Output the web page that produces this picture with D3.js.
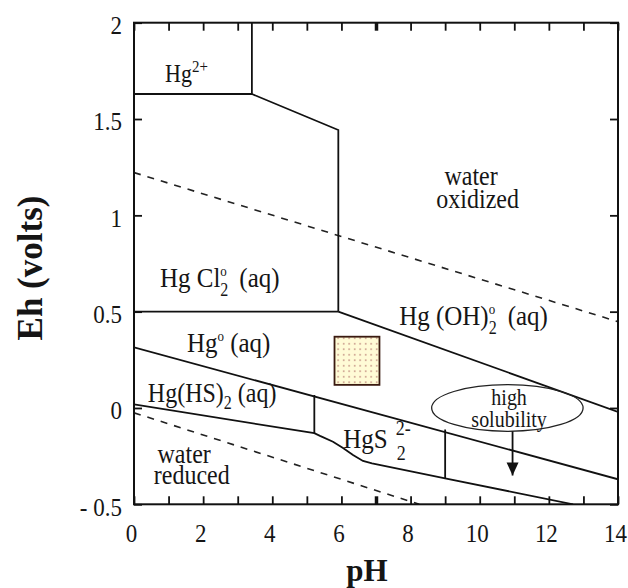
<!DOCTYPE html>
<html><head><meta charset="utf-8">
<script src="https://cdn.jsdelivr.net/npm/d3@7"></script>
<style>
html,body{margin:0;padding:0;background:#fff;}
text{font-family:"Liberation Serif","Times New Roman",serif;fill:#151515;}
</style></head>
<body><svg id="c" width="628" height="588"></svg>
<script>
// ---- data ----
const xDomain = [0, 14];
const yDomain = [-0.5, 2];
const xTickValues = d3.range(0, 15, 1);
const xLabelValues = [0, 2, 4, 6, 8, 10, 12, 14];
const yTickValues = [-0.5, 0, 0.5, 1, 1.5, 2];
const yTickLabels = ["- 0.5", "0", "0.5", "1", "1.5", "2"];

// solid stability-field boundaries [pH, Eh]
const hg2Box = [[0, 1.63], [3.41, 1.63], [3.41, 2]];
const hgcl2Upper = [[3.41, 1.63], [5.91, 1.443], [5.91, 0.5]];
const hgcl2Lower = [[0, 0.5], [5.91, 0.5]];
const hgoh2Lower = [[5.91, 0.5], [14, -0.02]];
const hg0Lower = [[0, 0.315], [14, -0.37]];
const hghs2Lower = [[0, 0.019], [5.216, -0.131], [5.38, -0.145], [5.756, -0.175], [6.046, -0.208],
                    [6.335, -0.244], [6.624, -0.275], [6.885, -0.287], [9.0, -0.365], [12.7, -0.5]];
const verticals = [[[5.216, -0.131], [5.216, 0.067]], [[9.0, -0.365], [9.0, -0.112]]];
// water stability limits (dashed)
const waterUpper = [[0, 1.222], [14, 0.448]];
const waterLower = [[0, -0.025], [8.25, -0.5]];
// shaded field box [pHmin, pHmax, EhMin, EhMax]
const fieldBox = [5.8, 7.1, 0.12, 0.37];
// ellipse [pH, Eh, rx(pH), ry(Eh)] and arrow
const solEllipse = [10.8, 0.0, 2.19, 0.121];
const solArrow = [[10.95, -0.121], [10.95, -0.35]];

// labels: parts = [text, baseline offset px, font size]
const regionLabels = [
  {x: 0.9, y: 1.694, size: 22, parts: [["Hg",0],["2+",-9,15]]},
  {x: 0.75, y: 0.628, size: 25, parts: [["Hg Cl",0],["2",8,16],["o",-10,13,-8],["  (aq)",0]]},
  {x: 1.53, y: 0.292, size: 25, parts: [["Hg",0],["o",-10,13],[" (aq)",0]]},
  {x: 0.4, y: 0.033, size: 24, parts: [["Hg(HS)",0],["2",7,16],[" (aq)",0]]},
  {x: 7.67, y: 0.431, size: 25, parts: [["Hg (OH)",0],["2",8,16],["o",-10,13,-8],["  (aq)",0]]}
];
const plainLabels = [
  {x: 1.45, y: -0.286, size: 24, t: "water"}, {x: 1.67, y: -0.395, size: 24, t: "reduced"},
  {x: 9.75, y: 1.158, size: 24, t: "water"}, {x: 9.94, y: 1.037, size: 24, t: "oxidized"},
  {x: 10.85, y: 0.016, size: 20, t: "high"}, {x: 10.85, y: -0.097, size: 20, t: "solubility"}
];

// ---- drawing ----
const SY = 1.12; // vertical stretch of the original lettering
const svg = d3.select("#c");
const x = d3.scaleLinear().domain(xDomain).range([134, 618]);
const y = d3.scaleLinear().domain(yDomain).range([504.3, 22.7]);
const line = d3.line().x(d => x(d[0])).y(d => y(d[1]));
const stext = (px, py, size) => svg.append("text")
  .attr("transform", `translate(${px},${py}) scale(1,${SY})`).attr("font-size", size);

const defs = svg.append("defs");
const pat = defs.append("pattern").attr("id","dots").attr("patternUnits","userSpaceOnUse")
  .attr("width",5.5).attr("height",5.5);
pat.append("rect").attr("width",5.5).attr("height",5.5).attr("fill","#fffbd6");
pat.append("circle").attr("cx",2.7).attr("cy",2.7).attr("r",0.75).attr("fill","#a05050");
defs.append("clipPath").attr("id","plot").append("rect")
  .attr("x",x(0)).attr("y",y(2)).attr("width",x(14)-x(0)).attr("height",y(-0.5)-y(2));

const g = svg.append("g").attr("clip-path","url(#plot)");

// dashed water lines
[waterUpper, waterLower].forEach(d => g.append("path").attr("d", line(d))
  .attr("fill","none").attr("stroke","#222").attr("stroke-width",1.6).attr("stroke-dasharray","7,7"));

// solid boundaries
[hg2Box, hgcl2Upper, hgcl2Lower, hgoh2Lower, hg0Lower, hghs2Lower, ...verticals].forEach(d =>
  g.append("path").attr("d", line(d)).attr("fill","none").attr("stroke","#111").attr("stroke-width",1.8));

// field box
g.append("rect").attr("x", x(fieldBox[0])).attr("y", y(fieldBox[3]))
  .attr("width", x(fieldBox[1]) - x(fieldBox[0])).attr("height", y(fieldBox[2]) - y(fieldBox[3]))
  .attr("fill","url(#dots)").attr("stroke","#3a1a10").attr("stroke-width",1.8);

// ellipse
g.append("ellipse").attr("cx", x(solEllipse[0])).attr("cy", y(solEllipse[1]))
  .attr("rx", x(solEllipse[2]) - x(0)).attr("ry", y(0) - y(solEllipse[3]))
  .attr("fill","none").attr("stroke","#222").attr("stroke-width",1.3);
// arrow
g.append("path").attr("d", line(solArrow)).attr("stroke","#111").attr("stroke-width",1.8);
const tip = [x(solArrow[1][0]), y(solArrow[1][1])];
g.append("path").attr("d", `M${tip[0]},${tip[1]} l-6,-13 l12,0 Z`).attr("fill","#111");

// axes
const axOpts = a => a.tickSizeOuter(0);
const axBottom = svg.append("g").attr("transform",`translate(0,${y(-0.5)})`)
  .call(axOpts(d3.axisBottom(x).tickValues(xTickValues).tickSize(-8).tickPadding(19)
    .tickFormat(d => xLabelValues.includes(d) ? d : "")));
const axTop = svg.append("g").attr("transform",`translate(0,${y(2)})`)
  .call(axOpts(d3.axisTop(x).tickValues(xTickValues).tickSize(-8).tickFormat("")));
const axLeft = svg.append("g").attr("transform",`translate(${x(0)},0)`)
  .call(axOpts(d3.axisLeft(y).tickValues(yTickValues).tickSize(-8).tickPadding(12)
    .tickFormat((d,i) => yTickLabels[i])));
const axRight = svg.append("g").attr("transform",`translate(${x(14)},0)`)
  .call(axOpts(d3.axisRight(y).tickValues(yTickValues).tickSize(-8).tickFormat("")));
[axBottom, axTop, axLeft, axRight].forEach(a => {
  a.select(".domain").remove();
  a.selectAll("line").attr("stroke","#111").attr("stroke-width",1.8);
  a.selectAll("text").attr("font-size",23).attr("fill","#222")
   .style("font-family",'"Liberation Serif",serif').attr("transform",`scale(1,${SY})`);
});
axBottom.selectAll("text").attr("y", 19 / SY).attr("dx", -3);
axLeft.selectAll("text").attr("dy", "0.42em");
// bold neutral tick at pH 7
[axBottom, axTop].forEach(a => a.selectAll(".tick").filter(d => d === 7).select("line").attr("stroke-width",3.5));
// frame
svg.append("rect").attr("x",x(0)).attr("y",y(2)).attr("width",x(14)-x(0)).attr("height",y(-0.5)-y(2))
  .attr("fill","none").attr("stroke","#111").attr("stroke-width",2);

// region labels with sub/superscripts
regionLabels.forEach(L => {
  const t = stext(x(L.x), y(L.y), L.size).attr("xml:space","preserve");
  let cur = 0;
  L.parts.forEach(p => {
    const ts = t.append("tspan").text(p[0]).attr("dy", p[1] - cur);
    if (p[2]) ts.attr("font-size", p[2]);
    if (p[3]) ts.attr("dx", p[3]);
    cur = p[1];
  });
});
// HgS2 2-
stext(x(6.05), y(-0.208), 25).text("HgS");
stext(x(7.57), y(-0.14), 18).text("2-");
stext(x(7.6), y(-0.27), 18).text("2");

plainLabels.forEach(L => stext(x(L.x), y(L.y), L.size).attr("text-anchor","middle").text(L.t));

// axis titles
svg.append("text").attr("x", 367).attr("y", 581).attr("text-anchor","middle")
  .attr("font-size",31).attr("font-weight","bold").attr("fill","#000").text("pH");
svg.append("text").attr("transform","translate(42,268) rotate(-90)").attr("text-anchor","middle")
  .attr("font-size",35).attr("font-weight","bold").attr("fill","#000").text("Eh (volts)");
</script></body></html>
